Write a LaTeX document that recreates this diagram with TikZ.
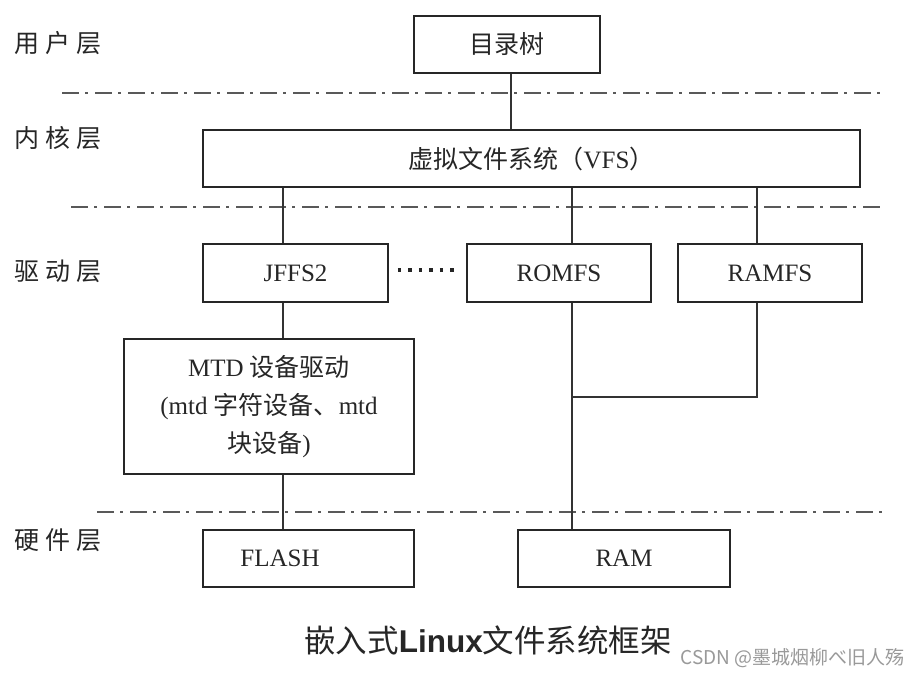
\documentclass[tikz,border=0pt]{standalone}
\usepackage{fontspec}
\setmainfont{Liberation Serif}
\newfontfamily\cjk{Noto Sans CJK SC}
\newfontfamily\capsans{Liberation Sans}
\begin{document}
\begin{tikzpicture}[x=1pt,y=-1pt,
  box/.style={draw=black!85, line width=1.6pt, fill=white, inner sep=0pt, font=\fontsize{25}{28}\selectfont, text=black!85},
  conn/.style={draw=black!80, line width=1.5pt},
  layerline/.style={draw=black!65, line width=2pt, dash pattern=on 17pt off 6pt on 3pt off 7pt},
  layerlabel/.style={anchor=west, inner sep=0pt, font=\cjk\fontsize{25}{28}\selectfont, text=black!85}]
\useasboundingbox[fill=white] (0,0) rectangle (923,678);

% layer labels
\node[layerlabel] (lu) at (14,43) {用\hspace{6pt}户\hspace{6pt}层};
\node[layerlabel] (lk) at (14,138) {内\hspace{6pt}核\hspace{6pt}层};
\node[layerlabel] (ld) at (14,271) {驱\hspace{6pt}动\hspace{6pt}层};
\node[layerlabel] (lh) at (14,540) {硬\hspace{6pt}件\hspace{6pt}层};

% layer separators
\coordinate (s1a) at (62,93);  \coordinate (s1b) at (880,93);
\coordinate (s2a) at (71,207); \coordinate (s2b) at (880,207);
\coordinate (s3a) at (97,512); \coordinate (s3b) at (883,512);
\draw[layerline] (s1a) -- (s1b);
\draw[layerline] (s2a) -- (s2b);
\draw[layerline] (s3a) -- (s3b);

% vertical line positions
\coordinate (xt) at (511,0);
\coordinate (xa) at (283,0);
\coordinate (xb) at (572,0);
\coordinate (xc) at (757,0);
\coordinate (join) at (572,397);

% boxes
\node[box, minimum width=186pt, minimum height=57pt] (tree) at (507,44.5) {\cjk 目录树};
\node[box, minimum width=657pt, minimum height=57pt] (vfs) at (531.5,158.5) {{\cjk 虚拟文件系统（}VFS{\cjk ）}};
\node[box, minimum width=185pt, minimum height=58pt] (jffs) at (295.5,273) {JFFS2};
\node[box, minimum width=184pt, minimum height=58pt] (romfs) at (559,273) {ROMFS};
\node[box, minimum width=184pt, minimum height=58pt] (ramfs) at (770,273) {RAMFS};
\node[box, minimum width=290pt, minimum height=135pt, align=center, font=\fontsize{25}{38}\selectfont] (mtd) at (269,406.5)
  {MTD {\cjk 设备驱动}\\({}mtd {\cjk 字符设备、}mtd\\{\cjk 块设备}{)}};
\node[box, minimum width=211pt, minimum height=57pt] (flash) at (308.5,558.5) {\hspace*{-57pt}FLASH};
\node[box, minimum width=212pt, minimum height=57pt] (ram) at (624,558.5) {RAM};

% connectors
\draw[conn] (tree.south -| xt) -- (vfs.north -| xt);
\draw[conn] (vfs.south -| xa) -- (jffs.north -| xa);
\draw[conn] (vfs.south -| xb) -- (romfs.north -| xb);
\draw[conn] (vfs.south -| xc) -- (ramfs.north -| xc);
\draw[conn] (jffs.south -| xa) -- (mtd.north -| xa);
\draw[conn] (mtd.south -| xa) -- (flash.north -| xa);
\draw[conn] (romfs.south -| xb) -- (ram.north -| xb);
\draw[conn] (ramfs.south -| xc) |- (join);
\draw[line width=3.2pt, dash pattern=on 3.5pt off 7pt, black!85]
  ([xshift=9pt,yshift=3pt]jffs.east) -- ([xshift=-10pt,yshift=3pt]romfs.west);

% caption and watermark
\node[inner sep=0pt, text=black!85] (cap) at (488,640)
  {\cjk\fontsize{31.5}{34}\selectfont 嵌入式{\capsans\bfseries Linux}文件系统框架};
\node[inner sep=0pt, anchor=east, text=black!40] (wm) at (905,658)
  {\cjk\fontsize{19}{21}\selectfont CSDN @墨城烟柳べ旧人殇};
\end{tikzpicture}
\end{document}
